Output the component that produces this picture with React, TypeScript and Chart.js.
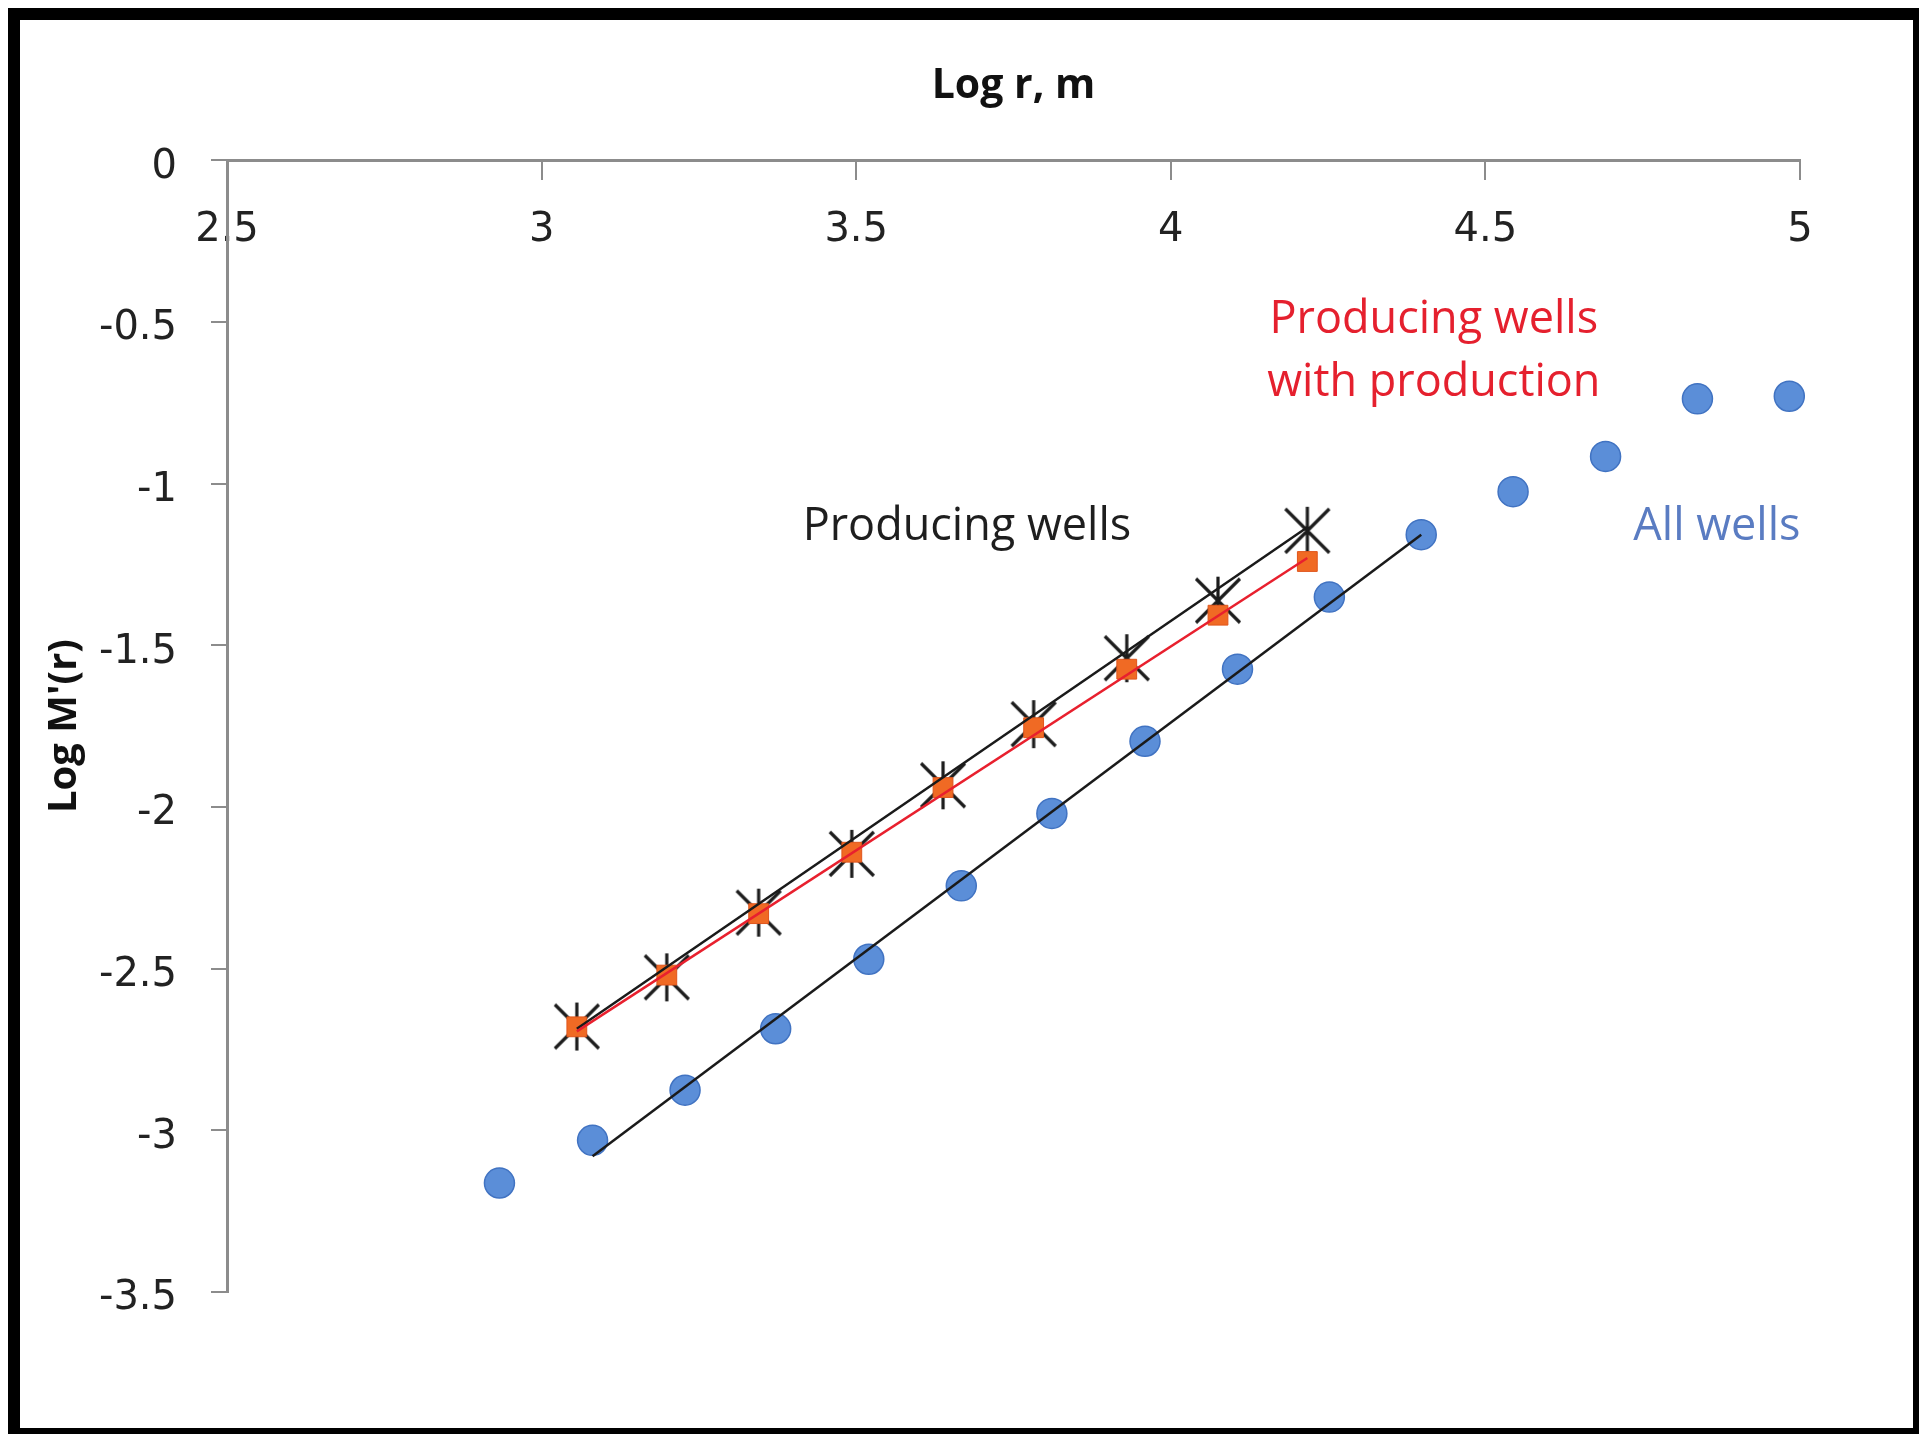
import React, { useEffect, useRef } from "react";
import { Chart, registerables } from "chart.js";

Chart.register(...registerables);

// ---- data ----
const xTicksMin = 2.5;
const xTicksMax = 5;
const yTicksMin = -3.5;
const yTicksMax = 0;
const tickStep = 0.5;

const allWellsX = [2.933, 3.081, 3.228, 3.372, 3.52, 3.667, 3.811, 3.959, 4.106, 4.252, 4.398, 4.544, 4.691, 4.837, 4.983];
const allWellsY = [-3.163, -3.031, -2.876, -2.686, -2.471, -2.244, -2.02, -1.797, -1.574, -1.351, -1.158, -1.025, -0.916, -0.738, -0.73];

const producingX = [3.056, 3.199, 3.345, 3.493, 3.638, 3.782, 3.93, 4.075, 4.217];
const producingY = [-2.679, -2.527, -2.327, -2.145, -1.933, -1.744, -1.54, -1.362, -1.146];

const withProdX = [3.056, 3.199, 3.345, 3.493, 3.638, 3.782, 3.93, 4.075, 4.217];
const withProdY = [-2.68, -2.52, -2.33, -2.14, -1.94, -1.755, -1.574, -1.407, -1.241];

const trendAllX = [3.081, 4.398];
const trendAllY = [-3.08, -1.158];
const trendProdX = [3.056, 4.217];
const trendProdY = [-2.686, -1.135];
const trendWithProdX = [3.056, 4.217];
const trendWithProdY = [-2.694, -1.23];

const xTitle = "Log r, m";
const yTitle = "Log M'(r)";

const annotationTexts = ["Producing wells", "Producing wells", "with production", "All wells"];
const annotationX = [3.676, 4.418, 4.418, 4.868];
const annotationY = [-1.134, -0.494, -0.689, -1.134];
const annotationColors = ["#1e1e1e", "#e5202e", "#e5202e", "#5a7cc2"];

const toPoints = (xs: number[], ys: number[]) => xs.map((x, i) => ({ x, y: ys[i] }));

function makeStarMarker(): HTMLCanvasElement {
  const c = document.createElement("canvas");
  c.width = 50;
  c.height = 50;
  const ctx = c.getContext("2d")!;
  ctx.strokeStyle = "#1c1c1c";
  ctx.lineWidth = 3.2;
  ctx.lineCap = "butt";
  ctx.beginPath();
  ctx.moveTo(3, 3);
  ctx.lineTo(47, 47);
  ctx.moveTo(47, 3);
  ctx.lineTo(3, 47);
  ctx.moveTo(25, 1);
  ctx.lineTo(25, 49);
  ctx.stroke();
  return c;
}

const annotationPlugin = {
  id: "textAnnotations",
  afterDatasetsDraw(chart: any) {
    const { ctx, scales } = chart;
    ctx.save();
    ctx.font = "45px 'Open Sans'";
    ctx.textAlign = "center";
    ctx.textBaseline = "middle";
    annotationTexts.forEach((t, i) => {
      ctx.fillStyle = annotationColors[i];
      ctx.fillText(t, scales.x.getPixelForValue(annotationX[i]), scales.y.getPixelForValue(annotationY[i]));
    });
    ctx.restore();
  },
};

const plainNumber = (v: any) => String(Math.round(Number(v) * 100) / 100);

export default function App() {
  const ref = useRef<HTMLCanvasElement | null>(null);

  useEffect(() => {
    if (!ref.current) return;
    const star = makeStarMarker();
    const axisGray = "#8c8c8c";
    const tickFont = { family: "'DejaVu Sans'", size: 40 };

    const chart = new Chart(ref.current, {
      type: "scatter",
      data: {
        datasets: [
          {
            label: "All wells",
            data: toPoints(allWellsX, allWellsY),
            pointStyle: "circle",
            pointRadius: 15,
            backgroundColor: "#5b8ed8",
            borderColor: "#4173c2",
            borderWidth: 1.5,
            order: 6,
            clip: false,
          },
          {
            label: "Producing wells",
            data: toPoints(producingX, producingY),
            pointStyle: star,
            pointRadius: 20,
            order: 5,
            clip: false,
          },
          {
            label: "Producing wells with production",
            data: toPoints(withProdX, withProdY),
            pointStyle: "rect",
            pointRadius: 14,
            backgroundColor: "#f06a24",
            borderColor: "#e0561c",
            borderWidth: 1,
            order: 4,
            clip: false,
          },
          {
            label: "Trend all",
            data: toPoints(trendAllX, trendAllY),
            showLine: true,
            pointRadius: 0,
            borderColor: "#1a1a1a",
            borderWidth: 2.5,
            order: 3,
          },
          {
            label: "Trend producing",
            data: toPoints(trendProdX, trendProdY),
            showLine: true,
            pointRadius: 0,
            borderColor: "#1a1a1a",
            borderWidth: 2.5,
            order: 2,
          },
          {
            label: "Trend with production",
            data: toPoints(trendWithProdX, trendWithProdY),
            showLine: true,
            pointRadius: 0,
            borderColor: "#e8202e",
            borderWidth: 2.5,
            order: 1,
          },
        ],
      },
      options: {
        animation: false,
        responsive: false,
        devicePixelRatio: 1,
        layout: { padding: { left: 0, right: 113, top: 0, bottom: 136 } },
        plugins: {
          legend: { display: false },
          tooltip: { enabled: false },
          title: {
            display: true,
            fullSize: false,
            text: xTitle,
            color: "#111",
            font: { family: "'Open Sans'", size: 41, weight: "bold" },
            padding: { top: 42, bottom: 49 },
          },
        },
        scales: {
          x: {
            type: "linear",
            position: { y: 0 } as any,
            min: xTicksMin,
            max: xTicksMax,
            ticks: {
              stepSize: tickStep,
              font: tickFont,
              color: "#222",
              padding: 28,
              maxRotation: 0,
              callback: plainNumber,
            },
            grid: { drawOnChartArea: false, drawTicks: true, tickLength: 18, color: axisGray, lineWidth: 2 },
            border: { display: true, color: axisGray, width: 3 },
            afterFit: (s: any) => {
              s.height = 0;
            },
          },
          y: {
            type: "linear",
            position: "left",
            min: yTicksMin,
            max: yTicksMax,
            ticks: {
              stepSize: tickStep,
              font: tickFont,
              color: "#222",
              padding: 34,
              labelOffset: 7,
              callback: plainNumber,
            },
            grid: { drawOnChartArea: false, drawTicks: true, tickLength: 16, color: axisGray, lineWidth: 2 },
            border: { display: true, color: axisGray, width: 3 },
            title: {
              display: true,
              text: yTitle,
              color: "#111",
              font: { family: "'Open Sans'", size: 40, weight: "bold" },
              padding: { top: 21, bottom: 0 },
            },
            afterFit: (s: any) => {
              s.width = 207;
            },
          },
        },
      },
      plugins: [annotationPlugin],
    } as any);

    return () => chart.destroy();
  }, []);

  return (
    <div
      style={{
        position: "fixed",
        left: 8,
        top: 8,
        width: 1911,
        height: 1426,
        boxSizing: "border-box",
        borderStyle: "solid",
        borderColor: "#000",
        borderLeftWidth: 12,
        borderTopWidth: 12,
        borderRightWidth: 6,
        borderBottomWidth: 6,
        background: "#fff",
      }}
    >
      <canvas ref={ref} width={1893} height={1408} style={{ display: "block" }} />
    </div>
  );
}
